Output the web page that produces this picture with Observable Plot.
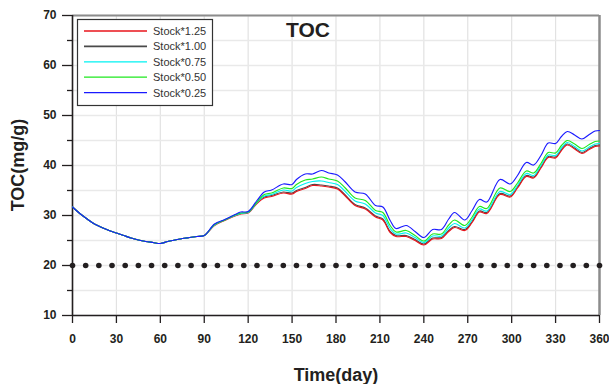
<!DOCTYPE html>
<html><head><meta charset="utf-8">
<script src="https://cdn.jsdelivr.net/npm/d3@7"></script>
<script src="https://cdn.jsdelivr.net/npm/@observablehq/plot@0.6"></script>
<style>body{margin:0;background:#fff} svg{display:block}</style>
</head><body><div id="chart"></div>
<script>
// ---- data ----
const days = [0,5,10,15,20,25,30,35,40,45,50,55,60,65,70,75,80,85,90,
  97,104,111,115,120,
  126,131,136,144,150,153,159,164,170,175,181,186,
  193,200,207,212,217,221,228,234,240,246,252,257,261,268,
  273,278,283,292,299,304,310,315,320,325,330,334,338,343,348,353,357,360];

const early = [31.7,30.4,29.3,28.3,27.6,27.0,26.5,26.0,25.5,25.1,24.8,24.6,24.4,24.8,25.1,25.4,25.6,25.8,26.0];

const stock125 = [...early,
  28.0,29.0,29.9,30.3,30.5,
  32.4,33.5,33.8,34.5,34.3,34.8,35.4,36.0,35.9,35.7,35.3,34.0,
  32.0,31.3,29.7,29.1,26.6,25.8,25.8,25.0,24.1,25.3,25.4,26.8,27.6,27.0,
  28.6,30.7,30.4,34.2,33.7,35.5,37.8,37.5,39.5,41.6,41.5,43.0,44.1,43.3,42.4,43.2,43.8,43.9];

const stock100 = [...early,
  28.1,29.1,30.0,30.4,30.6,
  32.6,33.7,34.0,34.7,34.5,35.0,35.6,36.2,36.1,35.9,35.5,34.2,
  32.2,31.5,29.9,29.3,26.8,26.0,26.0,25.2,24.3,25.5,25.6,27.0,27.8,27.2,
  28.8,30.9,30.6,34.4,33.9,35.7,38.0,37.7,39.7,41.8,41.7,43.2,44.3,43.5,42.6,43.4,44.0,44.1];

const stock075 = [...early,
  28.1,29.1,30.0,30.4,30.6,
  32.6,33.9,34.2,35.1,34.9,35.6,36.4,36.8,36.9,36.6,36.2,34.9,
  32.9,32.3,30.5,30.0,27.4,26.3,26.5,25.6,24.6,25.9,25.9,27.5,28.4,27.5,
  29.2,31.3,30.9,34.8,34.2,36.0,38.4,38.0,40.0,42.1,42.0,43.5,44.6,43.8,42.9,43.7,44.3,44.4];

const stock050 = [...early,
  28.2,29.1,30.1,30.5,30.7,
  32.7,34.2,34.5,35.5,35.4,36.2,37.1,37.3,37.7,37.3,36.9,35.6,
  33.5,33.0,31.0,30.6,28.0,26.7,27.0,26.0,24.9,26.3,26.3,28.1,29.1,28.0,
  29.7,31.8,31.4,35.5,34.8,36.5,38.9,38.5,40.4,42.6,42.5,44.0,45.0,44.3,43.4,44.2,44.8,44.9];

const stock025 = [...early,
  28.3,29.2,30.2,30.7,30.8,
  33.0,34.7,35.1,36.3,36.2,37.2,38.3,38.3,39.0,38.5,38.1,36.8,
  34.7,34.3,32.0,31.7,29.0,27.4,28.0,26.8,25.6,27.2,27.2,29.3,30.6,29.1,
  31.0,33.2,32.7,37.2,36.3,38.0,40.6,40.1,42.0,44.5,44.4,45.8,46.8,46.1,45.3,46.2,46.9,47.0];

const seriesNames = ["Stock*1.25","Stock*1.00","Stock*0.75","Stock*0.50","Stock*0.25"];
const seriesValues = [stock125, stock100, stock075, stock050, stock025];
const seriesColors = ["#e8141b","#4a4a4a","#00f2f2","#1ee81e","#1a1aff"];

const thresholdDays = [0,9,18,27,36,45,54,63,72,81,90,99,108,117,126,135,144,153,162,171,180,
  189,198,207,216,225,234,243,252,261,270,279,288,297,306,315,324,333,342,351,360];
const thresholdValue = 20;

const xTicks = [0,30,60,90,120,150,180,210,240,270,300,330,360];
const yTicks = [10,20,30,40,50,60,70];
const yMinor = [15,25,35,45,55,65];

const title = "TOC";
const xLabel = "Time(day)";
const yLabel = "TOC(mg/g)";

// ---- build ----
const FONT = "'Liberation Sans', Arial, Helvetica, sans-serif";
const ink = "#231f20";

const seriesData = seriesValues.map(vals => days.map((d, i) => ({day: d, toc: vals[i]})));
const drawOrder = [1, 0, 2, 3, 4];

const chart = Plot.plot({
  width: 609, height: 384,
  marginLeft: 72, marginRight: 10, marginTop: 15, marginBottom: 69,
  style: {fontFamily: FONT, background: "#fff", color: ink, overflow: "visible"},
  x: {domain: [0, 360]},
  y: {domain: [10, 70]},
  marks: [
    Plot.gridX(xTicks, {stroke: "#e2e2e2", strokeOpacity: 1, strokeWidth: 1.2}),
    Plot.gridY(yMinor.concat(yTicks), {stroke: "#e9e9e9", strokeOpacity: 1, strokeWidth: 1.5}),
    Plot.axisX(xTicks, {tickSize: 8, tickPadding: 11, fontSize: 12, fontWeight: "bold", label: null, strokeWidth: 1.3}),
    Plot.axisY(yTicks, {tickSize: 10, tickPadding: 6, fontSize: 12, fontWeight: "bold", label: null, strokeWidth: 1.3}),
    Plot.axisY(yMinor, {tickSize: 5, tickFormat: () => "", label: null, strokeWidth: 1.3}),
    Plot.ruleY([70], {stroke: "#8c8c8c", strokeWidth: 2}),
    Plot.ruleX([360], {stroke: "#8c8c8c", strokeWidth: 2.5}),
    Plot.ruleX([0], {stroke: ink, strokeWidth: 1.6}),
    Plot.ruleY([10], {stroke: ink, strokeWidth: 1.6}),
    ...drawOrder.map(k => Plot.line(seriesData[k], {x: "day", y: "toc", stroke: seriesColors[k], strokeWidth: 1.15, curve: "catmull-rom"})),
    Plot.dot(thresholdDays.map(d => ({day: d, toc: thresholdValue})), {x: "day", y: "toc", r: 2.8, fill: ink, stroke: "none"})
  ]
});

const svg = d3.select(chart);

// title inside plot
svg.append("text").attr("x", 308).attr("y", 37).attr("text-anchor", "middle")
  .attr("font-family", FONT).attr("font-size", 21).attr("font-weight", "bold").attr("fill", ink).text(title);

// axis titles
svg.append("text").attr("x", 336).attr("y", 381).attr("text-anchor", "middle")
  .attr("font-family", FONT).attr("font-size", 18).attr("font-weight", "bold").attr("fill", ink).text(xLabel);
svg.append("text").attr("transform", "translate(24,165) rotate(-90)").attr("text-anchor", "middle")
  .attr("font-family", FONT).attr("font-size", 18).attr("font-weight", "bold").attr("fill", ink).text(yLabel);

// legend
const lg = svg.append("g");
lg.append("rect").attr("x", 77.5).attr("y", 19.5).attr("width", 135).attr("height", 86)
  .attr("fill", "#fff").attr("stroke", "#333").attr("stroke-width", 1.2);
seriesNames.forEach((name, i) => {
  const y = 31 + i * 15.4;
  lg.append("line").attr("x1", 84).attr("x2", 147).attr("y1", y).attr("y2", y)
    .attr("stroke", seriesColors[i]).attr("stroke-width", i === 1 ? 1.8 : 1.3);
  lg.append("text").attr("x", 153).attr("y", y + 4).attr("text-anchor", "start")
    .attr("font-family", FONT).attr("font-size", 11).attr("fill", "#333").text(name);
});

document.getElementById("chart").appendChild(chart);
</script>
</body></html>
